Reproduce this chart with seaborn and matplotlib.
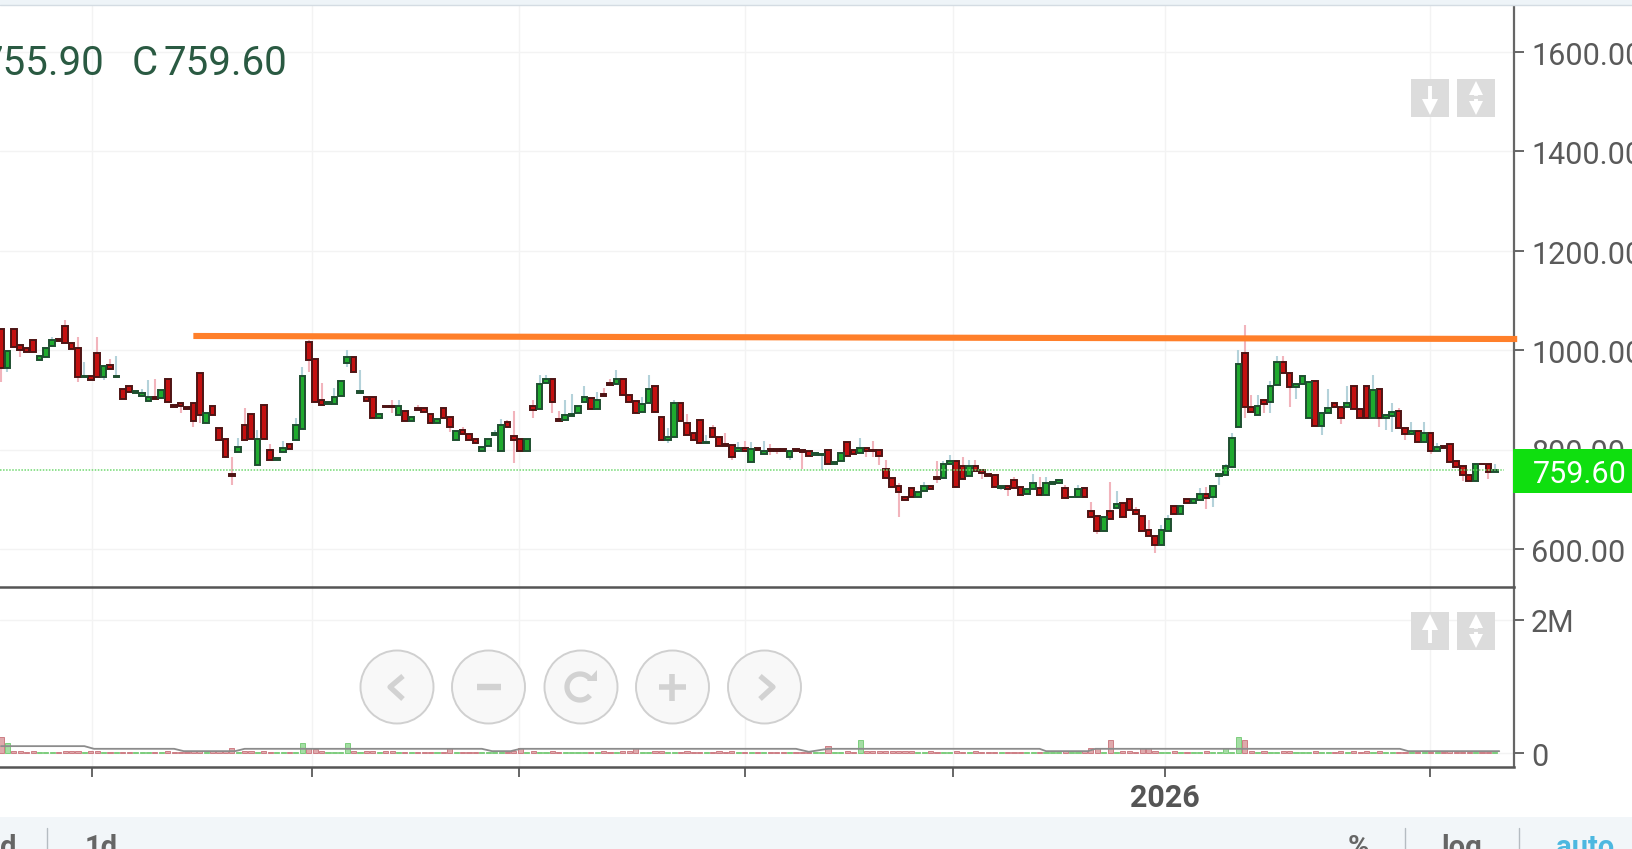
import numpy as np
import pandas as pd
import matplotlib
matplotlib.use('Agg')
import matplotlib.pyplot as plt
from matplotlib.patches import Circle, Rectangle
from matplotlib.transforms import ScaledTranslation
import seaborn as sns

sns.set_style('white')
plt.rcParams['font.family'] = ['Roboto', 'DejaVu Sans']

# daily candles, one row per ten sessions
opens = [1042, 964, 1042, 1010, 1004, 1020, 980, 986, 1008, 1023,
         1049, 1015, 1004, 946, 948, 994, 947, 971, 947, 921,
         927, 913, 908, 897, 905, 903, 943, 889, 893, 886,
         893, 955, 853, 888, 843, 822, 751, 796, 849, 872,
         769, 889, 800, 780, 796, 811, 819, 842, 1016, 982,
         900, 892, 892, 908, 975, 987, 913, 905, 905, 864,
         888, 888, 870, 878, 858, 884, 883, 872, 853, 883,
         866, 819, 839, 832, 822, 797, 808, 829, 797, 855,
         827, 821, 797, 888, 881, 933, 943, 861, 860, 868,
         874, 896, 903, 881, 911, 933, 931, 943, 910, 898,
         875, 893, 927, 866, 819, 825, 893, 854, 833, 860,
         813, 844, 826, 811, 809, 798, 804, 775, 804, 792,
         801, 801, 801, 786, 801, 799, 798, 790, 790, 799,
         770, 777, 816, 799, 794, 804, 800, 799, 761, 742,
         727, 704, 722, 704, 717, 727, 744, 742, 770, 778,
         766, 747, 767, 759, 751, 749, 723, 727, 739, 725,
         710, 721, 722, 708, 731, 732, 722, 704, 704, 722,
         677, 666, 637, 677, 682, 693, 700, 678, 666, 638,
         627, 609, 637, 687, 670, 700, 693, 699, 711, 704,
         747, 749, 764, 846, 994, 886, 869, 900, 896, 930,
         977, 955, 925, 932, 864, 938, 848, 874, 893, 886,
         886, 927, 882, 927, 864, 921, 864, 868, 877, 843,
         831, 838, 815, 833, 798, 807, 811, 777, 766, 749,
         737, 772, 771, 755.9]
highs = [1042, 999, 1042, 1010, 1004, 1020, 988, 1004, 1027, 1023,
         1061, 1015, 1027, 977, 948, 1027, 969, 982, 988, 921,
         927, 917, 921, 940, 943, 920, 943, 889, 893, 886,
         893, 955, 874, 888, 843, 822, 786, 823, 883, 872,
         839, 889, 811, 783, 818, 811, 863, 967, 1020, 982,
         933, 896, 923, 938, 1000, 987, 960, 905, 905, 872,
         888, 900, 900, 878, 866, 890, 883, 872, 861, 883,
         866, 838, 845, 832, 822, 806, 822, 839, 861, 860,
         878, 821, 821, 900, 950, 950, 943, 878, 900, 912,
         888, 928, 903, 916, 923, 943, 960, 943, 910, 898,
         905, 950, 927, 866, 843, 900, 893, 872, 833, 860,
         829, 849, 826, 833, 809, 816, 818, 816, 804, 818,
         811, 801, 801, 798, 801, 799, 798, 794, 792, 799,
         776, 794, 816, 799, 823, 804, 818, 799, 779, 742,
         732, 704, 722, 714, 734, 727, 778, 778, 789, 778,
         786, 779, 779, 759, 751, 749, 727, 727, 745, 725,
         720, 751, 745, 745, 734, 739, 729, 705, 729, 722,
         695, 666, 664, 734, 717, 693, 700, 684, 666, 658,
         627, 648, 668, 687, 686, 700, 700, 722, 725, 727,
         750, 772, 834, 1000, 1051, 910, 910, 900, 939, 988,
         988, 955, 932, 949, 937, 938, 873, 922, 893, 886,
         927, 927, 882, 927, 950, 921, 869, 894, 883, 843,
         856, 838, 856, 833, 813, 807, 811, 777, 766, 749,
         771, 772, 771, 772]
lows = [937, 957, 1007, 986, 997, 997, 980, 986, 1008, 1019,
        1015, 1002, 935, 946, 941, 947, 940, 963, 947, 902,
        916, 913, 908, 897, 901, 903, 896, 886, 874, 881,
        846, 853, 853, 869, 819, 786, 729, 796, 819, 821,
        769, 821, 780, 780, 796, 802, 819, 842, 957, 896,
        890, 892, 892, 908, 967, 957, 913, 897, 864, 864,
        886, 873, 870, 857, 858, 880, 875, 853, 853, 864,
        836, 819, 831, 819, 814, 797, 808, 829, 797, 846,
        774, 797, 797, 863, 881, 933, 874, 857, 860, 868,
        874, 896, 881, 881, 907, 930, 931, 910, 896, 874,
        875, 893, 875, 819, 813, 825, 858, 829, 819, 814,
        813, 826, 808, 808, 780, 798, 798, 775, 799, 792,
        789, 791, 798, 780, 798, 760, 787, 790, 759, 770,
        770, 777, 788, 792, 794, 786, 786, 769, 742, 725,
        664, 698, 704, 704, 717, 720, 732, 742, 770, 725,
        740, 747, 757, 740, 747, 725, 719, 706, 722, 708,
        710, 721, 708, 708, 731, 732, 703, 704, 704, 704,
        665, 630, 637, 660, 682, 665, 678, 670, 637, 626,
        591, 609, 637, 670, 670, 693, 693, 699, 680, 685,
        729, 749, 764, 846, 863, 876, 869, 874, 874, 930,
        954, 885, 901, 932, 864, 848, 829, 874, 886, 852,
        886, 882, 864, 864, 864, 846, 839, 836, 843, 819,
        831, 815, 815, 791, 798, 804, 776, 764, 736, 737,
        737, 770, 741, 754]
closes = [964, 999, 1007, 1000, 997, 997, 988, 1004, 1020, 1019,
          1015, 1002, 947, 948, 941, 947, 969, 963, 949, 902,
          916, 917, 913, 905, 901, 920, 896, 886, 888, 881,
          858, 870, 874, 869, 819, 786, 747, 806, 819, 821,
          822, 821, 780, 783, 804, 802, 849, 949, 980, 896,
          890, 896, 905, 938, 987, 957, 917, 897, 864, 872,
          886, 886, 888, 857, 866, 880, 875, 853, 861, 864,
          846, 838, 831, 819, 814, 806, 822, 833, 849, 846,
          819, 797, 821, 880, 932, 943, 896, 857, 869, 872,
          888, 905, 881, 900, 907, 930, 943, 910, 896, 874,
          892, 921, 875, 819, 826, 893, 858, 829, 819, 814,
          816, 826, 808, 808, 786, 804, 798, 802, 799, 797,
          798, 798, 798, 798, 798, 796, 787, 794, 792, 770,
          776, 794, 788, 792, 804, 798, 797, 787, 742, 725,
          714, 698, 704, 714, 727, 720, 741, 771, 778, 725,
          740, 766, 757, 752, 747, 725, 727, 721, 722, 708,
          720, 733, 708, 732, 734, 739, 703, 705, 721, 704,
          665, 637, 664, 660, 690, 665, 678, 670, 637, 626,
          609, 638, 661, 670, 686, 693, 700, 711, 702, 727,
          750, 766, 823, 972, 886, 876, 888, 891, 927, 977,
          954, 925, 932, 949, 937, 848, 873, 883, 886, 864,
          893, 882, 864, 864, 920, 864, 869, 876, 843, 831,
          838, 815, 833, 798, 805, 804, 776, 764, 749, 737,
          771, 770, 754, 759.6]
# volume in shares
volumes_k = [240, 155, 25, 25, 22, 25, 10, 12, 12, 22,
             25, 25, 28, 10, 25, 28, 12, 20, 10, 20,
             20, 12, 12, 14, 22, 12, 28, 20, 22, 24,
             30, 30, 12, 35, 30, 35, 75, 14, 28, 25,
             15, 25, 20, 10, 12, 20, 15, 155, 75, 60,
             25, 15, 12, 14, 155, 30, 12, 25, 28, 12,
             25, 25, 10, 22, 12, 24, 22, 20, 10, 20,
             75, 12, 20, 22, 20, 10, 12, 12, 14, 22,
             25, 75, 12, 25, 14, 12, 28, 20, 10, 14,
             12, 14, 22, 12, 25, 24, 12, 25, 25, 75,
             14, 12, 28, 25, 10, 14, 22, 25, 20, 22,
             10, 20, 25, 22, 25, 12, 20, 12, 22, 12,
             20, 22, 20, 12, 20, 18, 22, 10, 12, 105,
             14, 15, 25, 22, 195, 25, 28, 28, 30, 28,
             30, 25, 28, 14, 12, 25, 22, 14, 12, 25,
             22, 12, 25, 20, 22, 22, 10, 20, 22, 24,
             10, 12, 22, 14, 10, 12, 25, 10, 12, 25,
             75, 75, 14, 195, 12, 25, 25, 22, 75, 75,
             25, 14, 12, 25, 12, 22, 12, 14, 25, 12,
             14, 75, 14, 240, 195, 30, 14, 25, 14, 12,
             25, 28, 12, 14, 12, 28, 12, 12, 22, 25,
             12, 25, 22, 28, 14, 25, 10, 12, 20, 22,
             12, 20, 12, 22, 10, 18, 25, 22, 22, 20,
             12, 22, 20, 12]
vol_ma_sessions = [0, 13, 14.5, 27, 28.5, 36.5, 38, 75, 76.6, 79.5, 81, 124, 126, 129, 162, 163, 169.5, 170.7, 218.2, 219.5, 233.7]
vol_ma_k = [105, 105, 65, 65, 30, 30, 65, 65, 30, 30, 65, 65, 20, 65, 65, 30, 30, 65, 65, 30, 30]

trend_sessions = [30, 236.5]
trend_prices = [1028.6, 1022.5]
last_price = 759.60

grid_sessions = [14.2, 48.5, 80.8, 116, 148.5, 181.6, 222.9]
grid_labels = ['', '', '', '', '', '2026', '']
price_ticks = [600, 800, 1000, 1200, 1400, 1600]

df = pd.DataFrame({'session': np.arange(len(opens)), 'open': opens, 'high': highs,
                   'low': lows, 'close': closes, 'volume': np.array(volumes_k) * 1000})
df['dir'] = np.where(df['close'] >= df['open'], 'up', 'down')

W, H = 1633, 849
axis_right = 1514
fig = plt.figure(figsize=(W / 100, H / 100), dpi=100, facecolor='white')
ax2 = fig.add_axes([0, 1 - 766.5 / H, axis_right / W, 179.5 / H])
ax = fig.add_axes([0, 1 - 587 / H, axis_right / W, 581 / H], zorder=3)

xlim = (-0.16, 236.0)
axis_col = '#666666'

# candles
wick_cols = {'up': '#b4d2da', 'down': '#f2b4bc'}
body_cols = {'up': '#1faa2e', 'down': '#c41010'}
edge_cols = {'up': '#1e4f30', 'down': '#4e1414'}
for d, part in df.groupby('dir'):
    ax.vlines(part['session'], part['low'], part['high'], color=wick_cols[d], lw=1.5, zorder=2)
for d, part in df.groupby('dir'):
    bottom = part[['open', 'close']].min(axis=1)
    top = part[['open', 'close']].max(axis=1)
    ax.bar(part['session'], top - bottom, bottom=bottom, width=0.88, color=body_cols[d],
           edgecolor=edge_cols[d], linewidth=1.4, zorder=3)

sns.lineplot(x=trend_sessions, y=trend_prices, ax=ax, color='#ff7f2a', lw=4.4, zorder=5,
             solid_capstyle='butt', clip_on=False)
ax.plot([xlim[0], 234.5], [last_price, last_price], color='#6fd86f', lw=1.1, ls=(0, (1, 1)), zorder=4)

ax.set_xlim(xlim)
ax.set_ylim(523.5, 1692.6)
ax.set_yticks(price_ticks)
ax.set_yticklabels(['%.2f' % v for v in price_ticks])

# volume panel
sns.barplot(data=df, x='session', y='volume', hue='dir', native_scale=True, dodge=False, width=0.8,
            palette={'up': '#9be69b', 'down': '#e8a0a4'}, edgecolor=None, legend=False, ax=ax2, zorder=2)
for bar in ax2.patches:
    bar.set_edgecolor('#70c870' if bar.get_facecolor()[1] > 0.8 else '#c87078')
    bar.set_linewidth(0.6)
sns.lineplot(x=vol_ma_sessions, y=np.array(vol_ma_k) * 1000, ax=ax2, color='#8c8c8c', lw=1.3, zorder=3)
ax2.set_xlim(xlim)
ax2.set_ylim(-200000, 2489000)
ax2.set_yticks([0, 2000000])
ax2.set_yticklabels(['0', '2M'])
ax2.set_xlabel('')
ax2.set_ylabel('')

label_shift = ScaledTranslation(0, -1.3 / 100, fig.dpi_scale_trans)
for a in (ax, ax2):
    a.set_facecolor('none' if a is ax else 'white')
    a.yaxis.tick_right()
    a.grid(True, color='#f3f3f3', lw=1.0, zorder=0)
    a.set_axisbelow(True)
    a.set_xticks(grid_sessions)
    a.tick_params(axis='y', length=7.2, width=1.4, color=axis_col, labelcolor='#5a5a5a', labelsize=22, pad=5)
    for s in ('top', 'left'):
        a.spines[s].set_visible(False)
    a.spines['right'].set_color(axis_col)
    a.spines['right'].set_linewidth(1.6)
    a.spines['bottom'].set_color('#555555')
    a.spines['bottom'].set_linewidth(1.8)
    for lab in a.get_yticklabels():
        lab.set_transform(lab.get_transform() + label_shift)
ax.tick_params(axis='x', length=0, labelbottom=False)
ax2.set_xticklabels(grid_labels, fontsize=22, fontweight='bold', color='#555555')
ax2.tick_params(axis='x', length=7, width=1.4, color=axis_col, pad=4.6, bottom=True)

# app chrome on top, in screen pixels
ui = fig.add_axes([0, 0, 1, 1], facecolor='none', zorder=10)
ui.set_xlim(0, W)
ui.set_ylim(H, 0)
ui.axis('off')

ui.add_patch(Rectangle((0, 0), W, 5, color='#eef4f8', lw=0))
ui.plot([0, W], [5, 5], color='#d4dce3', lw=1)
ui.add_patch(Rectangle((0, 817), W, 32, color='#f2f6f9', lw=0))
ui.add_patch(Rectangle((1513, 449), 120, 44, color='#0fdf0f', lw=0))
ui.text(1533, 474, '759.60', color='white', fontsize=22, va='center')

head_col = '#2a5a42'
ui.text(104, 63, '755.90', color=head_col, fontsize=29, ha='right', va='center')
ui.text(132, 63, 'C', color=head_col, fontsize=29, va='center')
ui.text(164, 63, '759.60', color=head_col, fontsize=29, va='center')

btm_col = '#666666'
for x, s, c in [(0, 'd', btm_col), (85, '1d', btm_col), (1348, '%', btm_col), (1441, 'log', btm_col), (1556, 'auto', '#4db8e0')]:
    ui.text(x, 856, s, color=c, fontsize=21, fontweight='bold', va='baseline', clip_on=True)
for x in (47, 1405, 1519):
    ui.plot([x, x], [828, 849], color='#b5bcc2', lw=1)

# zoom buttons
btn_col = '#d2d2d2'
for cx in (397, 488.5, 581, 672.5, 764.5):
    ui.add_patch(Circle((cx, 687), 36.5, facecolor='#f8f8f8', edgecolor='#d0d0d0', lw=1.4))
ui.plot([403, 390, 403], [676, 687, 699], color=btn_col, lw=3.8, solid_capstyle='butt')
ui.plot([760, 773, 760], [676, 687, 699], color=btn_col, lw=3.8, solid_capstyle='butt')
ui.plot([477, 501], [687, 687], color=btn_col, lw=4.6, solid_capstyle='butt')
ui.plot([659, 686], [687, 687], color=btn_col, lw=4, solid_capstyle='butt')
ui.plot([672.5, 672.5], [674, 701], color=btn_col, lw=4, solid_capstyle='butt')
ang = np.radians(np.linspace(40, 320, 60))
ui.plot(580 + 13 * np.cos(ang), 687 + 13 * np.sin(ang), color=btn_col, lw=3.8, solid_capstyle='butt')
ui.fill([587, 597, 597], [681, 681, 670], color=btn_col, lw=0)

# scale buttons on the right
for y0, head in [(79, 'v'), (612, '^')]:
    for x0 in (1411, 1457):
        ui.add_patch(Rectangle((x0, y0), 38, 38, color='#dcdcdc', lw=0))
    cy = y0 + 19
    ui.plot([1430, 1430], [cy - 12, cy + 12], color='white', lw=2.8, solid_capstyle='butt')
    ui.plot(1430, cy + 9 if head == 'v' else cy - 9, marker=head, color='white', ms=11, mew=0)
    ui.plot([1476, 1476], [cy - 8, cy + 8], color='white', lw=2.8, solid_capstyle='butt', ls=(0, (1.5, 0.8)))
    ui.plot(1476, cy - 10, marker='^', color='white', ms=10, mew=0)
    ui.plot(1476, cy + 10, marker='v', color='white', ms=10, mew=0)

fig.savefig('out.png', dpi=100)
